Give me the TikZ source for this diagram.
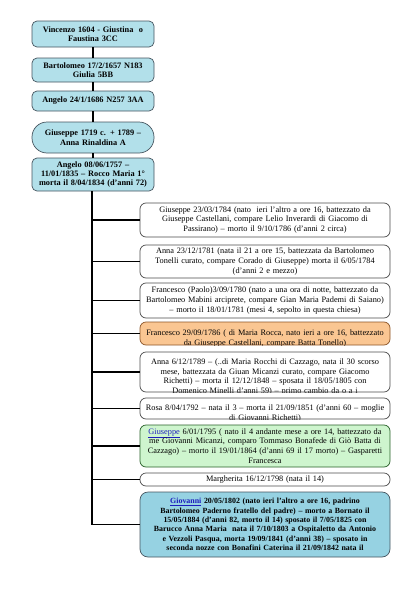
\documentclass[tikz,border=0pt]{standalone}
\usepackage{fontspec}
\setmainfont{Liberation Serif}
\definecolor{topfill}{RGB}{178,224,234}
\definecolor{topline}{RGB}{70,85,95}
\definecolor{orfill}{RGB}{250,198,146}
\definecolor{orline}{RGB}{140,85,40}
\definecolor{grfill}{RGB}{206,245,206}
\definecolor{grline}{RGB}{40,95,40}
\definecolor{gvfill}{RGB}{150,210,226}
\definecolor{lnkcol}{RGB}{30,30,190}
\newcommand\lnk[1]{\textcolor{lnkcol}{\underline{#1}}}
\newcommand\kidfont{\fontsize{8.3}{9.7}\selectfont}
\newcommand\topfont{\fontsize{8.3}{9.4}\selectfont\bfseries}
\newcommand\gvfont{\fontsize{7.9}{9.4}\selectfont\bfseries}
\tikzset{
  topbox/.style={draw=topline, fill=topfill, line width=0.7pt, rounded corners=5pt,
    minimum width=122pt, text width=120pt, align=center, inner sep=1pt, font=\topfont},
  kid/.style={draw=black!70, fill=white, line width=0.7pt, rounded corners=6pt,
    minimum width=250pt, text width=248pt, align=center, inner sep=1pt, font=\kidfont},
  wire/.style={line width=1.2pt, black},
  cliptext/.style={path picture={\node[anchor=north, text width=248pt, align=center,
    inner sep=0pt, font=\kidfont] at ([yshift=-4.5pt]path picture bounding box.north) {#1};}}
}
\begin{document}
\begin{tikzpicture}[x=1pt,y=-1pt]
\useasboundingbox (0,0) rectangle (417,589);
% ancestors
\node[topbox, minimum height=26pt] (v) at (93,34) {Vincenzo 1604 - Giustina\ \ o\\Faustina 3CC};
\node[topbox, minimum height=24pt] (b) at (93,70) {Bartolomeo 17/2/1657 N183\\Giulia 5BB};
\node[topbox, minimum height=20pt] (a) at (93,101) {Angelo 24/1/1686 N257 3AA};
\node[topbox, minimum height=31pt, rounded corners=15pt] (g) at (93,137.5) {Giuseppe 1719 c. + 1789 –\\Anna Rinaldina A};
\node[topbox, minimum height=33pt] (a2) at (93,174.5) {Angelo 08/06/1757 –\\11/01/1835 – Rocco Maria 1°\\morta il 8/04/1834 (d’anni 72)};
\draw[wire] (v) -- (b);
\draw[wire] (b) -- (a);
\draw[wire] (a) -- (g);
\draw[wire] (g) -- (a2);
% children
\node[kid, minimum height=34pt] (k1) at (265,220) {Giuseppe 23/03/1784 (nato\ \ ieri l’altro a ore 16, battezzato da\\Giuseppe Castellani, compare Lelio Inverardi di Giacomo di\\Passirano) – morto il 9/10/1786 (d’anni 2 circa)};
\node[kid, minimum height=33pt] (k2) at (265,261.5) {Anna 23/12/1781 (nata il 21 a ore 15, battezzata da Bartolomeo\\Tonelli curato, compare Corado di Giuseppe) morta il 6/05/1784\\(d’anni 2 e mezzo)};
\node[kid, minimum height=35pt] (k3) at (265,300.5) {Francesco (Paolo)3/09/1780 (nato a una ora di notte, battezzato da\\Bartolomeo Mabini arciprete, compare Gian Maria Pademi di Saiano)\\– morto il 18/01/1781 (mesi 4, sepolto in questa chiesa)};
\node[kid, draw=orline, fill=orfill, minimum height=23pt,
  cliptext={Francesco 29/09/1786 ( di Maria Rocca, nato ieri a ore 16, battezzato\\da Giuseppe Castellani, compare Batta Tonello)}] (k4) at (265,333.5) {};
\node[kid, minimum height=40pt,
  cliptext={Anna 6/12/1789 – (..di Maria Rocchi di Cazzago, nata il 30 scorso\\mese, battezzata da Giuan Micanzi curato, compare Giacomo\\Richetti) – morta il 12/12/1848 – sposata il 18/05/1805 con\\Domenico Minelli d’anni 59) – primo cambio da o a i}] (k5) at (265,372) {};
\node[kid, minimum height=21pt,
  cliptext={Rosa 8/04/1792 – nata il 3 – morta il 21/09/1851 (d’anni 60 – moglie\\di Giovanni Richetti)}] (k6) at (265,408.5) {};
\node[kid, draw=grline, fill=grfill, minimum height=42pt] (k7) at (265,446) {\lnk{Giuseppe} 6/01/1795 ( nato il 4 andante mese a ore 14, battezzato da\\me Giovanni Micanzi, comparo Tommaso Bonafede di Giò Batta di\\Cazzago) – morto il 19/01/1864 (d’anni 69 il 17 morto) – Gasparetti\\Francesca};
\node[kid, minimum height=13pt] (k8) at (265,479.5) {Margherita 16/12/1798 (nata il 14)};
\node[kid, draw=topline, fill=gvfill, minimum height=65pt, font=\gvfont, rounded corners=8pt] (k9) at (265,524.5) {\lnk{Giovanni} 20/05/1802 (nato ieri l’altro a ore 16, padrino\\Bartolomeo Paderno fratello del padre) – morto a Bornato il\\15/05/1884 (d’anni 82, morto il 14) sposato il 7/05/1825 con\\Barucco Anna Maria\ \ nata il 7/10/1803 a Ospitaletto da Antonio\\e Vezzoli Pasqua, morta 19/09/1841 (d’anni 38) – sposato in\\seconda nozze con Bonafini Caterina il 21/09/1842 nata il};
% trunk and branches
\coordinate (tr) at (92,0);
\draw[wire] (a2.south -| tr) -- (k9.west -| tr);
\foreach \k in {k1,k2,k3,k4,k5,k6,k7,k8,k9}
  \draw[wire] (\k.west -| tr) -- (\k.west);
\end{tikzpicture}
\end{document}
